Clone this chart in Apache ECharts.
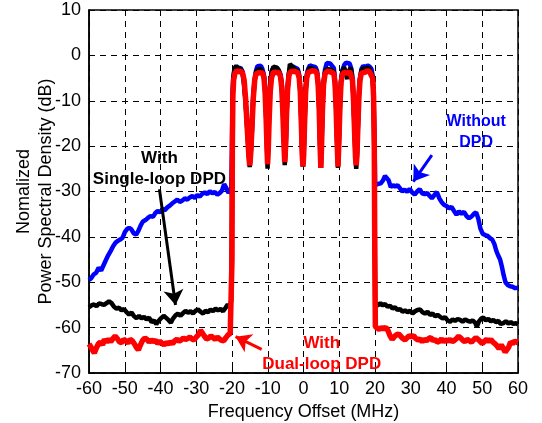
<!DOCTYPE html>
<html>
<head>
<meta charset="utf-8">
<script src="https://cdn.jsdelivr.net/npm/echarts@6/dist/echarts.min.js"></script>
<style>
  html, body { margin: 0; padding: 0; background: #fff; }
  #chart { width: 542px; height: 423px; }
</style>
</head>
<body>
<div id="chart"></div>
<script>
// [frequency offset (MHz), level (dB)]
const blueLeft = [[-60,-49.5],[-59.4,-49.1],[-58.7,-48.3],[-58,-47.9],[-57.3,-46.8],[-56.6,-47.4],[-55.9,-46.2],[-55.2,-45.0],[-54.6,-44.0],[-54,-43.2],[-53.3,-42.1],[-52.6,-41.3],[-52,-40.9],[-51.3,-40.6],[-50.6,-40.2],[-50,-39.0],[-49.4,-38.3],[-48.8,-38.0],[-48.2,-38.3],[-47.5,-39.2],[-46.8,-39.5],[-46.2,-38.7],[-45.5,-37.4],[-44.9,-36.6],[-44.2,-36.3],[-43.5,-35.8],[-42.8,-35.4],[-42.1,-35.6],[-41.5,-34.8],[-40.8,-34.3],[-40.1,-34.6],[-39.4,-33.9],[-38.8,-34.1],[-38.1,-33.5],[-37.4,-33.1],[-36.7,-32.6],[-36.0,-32.2],[-35.3,-31.8],[-34.6,-32.3],[-33.9,-32.0],[-33.2,-31.5],[-32.5,-31.8],[-31.8,-31.3],[-31.1,-31.0],[-30.4,-31.4],[-29.7,-30.8],[-29.0,-31.1],[-28.3,-30.5],[-27.6,-30.2],[-26.9,-30.6],[-26.2,-29.9],[-25.5,-30.4],[-24.8,-30.1],[-24.1,-30.7],[-23.4,-30.3],[-22.8,-29.8],[-22.2,-28.4],[-21.6,-29.2],[-21.0,-30.3],[-20.5,-30.6]];
const blueBand = [[-20.2,-29.5],[-20.0,-20],[-19.85,-9],[-19.65,-5],[-19.3,-3.2],[-18.8,-2.6],[-18.2,-2.9],[-17.6,-2.7],[-17.1,-3.5],[-16.7,-5.5],[-16.2,-10],[-15.6,-17.5],[-15.25,-22],[-15.05,-23.8],[-14.8,-22],[-14.5,-17.5],[-14.1,-9.5],[-13.7,-5.5],[-13.3,-3.4],[-12.9,-2.4],[-12.4,-2.6],[-11.9,-2.3],[-11.5,-3.0],[-11.1,-4.2],[-10.8,-6.5],[-10.5,-11.5],[-10.25,-18.5],[-10.05,-23.5],[-9.85,-18.5],[-9.6,-11.5],[-9.3,-6],[-8.9,-3.4],[-8.4,-2.7],[-7.9,-2.9],[-7.4,-2.8],[-6.9,-3.0],[-6.5,-4],[-6.1,-6],[-5.8,-10.5],[-5.5,-17.5],[-5.25,-23],[-5.0,-20.5],[-4.8,-14.5],[-4.5,-8],[-4.2,-4.5],[-3.8,-2.9],[-3.2,-2.4],[-2.6,-2.6],[-2.1,-2.5],[-1.6,-3.0],[-1.2,-4.3],[-0.9,-7.5],[-0.6,-14.5],[-0.35,-21.5],[-0.15,-24],[0.05,-21.5],[0.3,-14.5],[0.6,-7.5],[0.9,-4.3],[1.3,-3.0],[1.8,-2.2],[2.4,-2.4],[2.9,-2.1],[3.4,-2.6],[3.8,-3.5],[4.1,-6],[4.4,-11.5],[4.65,-19.5],[4.85,-24.3],[5.05,-19.5],[5.3,-11.5],[5.6,-6],[6.0,-3.2],[6.5,-1.7],[7.0,-1.5],[7.5,-1.8],[8.0,-2.0],[8.5,-2.8],[8.8,-5.5],[9.1,-10.5],[9.4,-18.5],[9.65,-24],[9.9,-18.5],[10.2,-10.5],[10.5,-5.5],[10.9,-3.2],[11.4,-2.1],[11.9,-1.6],[12.4,-2.0],[12.9,-1.8],[13.4,-3.0],[13.7,-5],[14.0,-9.5],[14.3,-16.5],[14.55,-22],[14.75,-23.8],[14.95,-21.5],[15.2,-15.5],[15.5,-8.5],[15.8,-5],[16.2,-3.0],[16.7,-2.3],[17.3,-2.6],[17.9,-2.2],[18.5,-2.5],[19.0,-3.0],[19.35,-4.5],[19.6,-8.5],[19.85,-18],[20.05,-28.6]];
const blueRight = [[20.3,-28.6],[21.0,-28.3],[21.6,-28.2],[22.2,-27.6],[22.8,-26.6],[23.3,-26.4],[23.8,-27.5],[24.4,-29.0],[25.0,-28.6],[25.6,-28.9],[26.3,-28.6],[27.0,-29.3],[27.6,-30.0],[28.3,-29.6],[29.0,-30.1],[29.7,-29.4],[30.4,-30.2],[31.1,-30.7],[31.8,-30.0],[32.5,-29.5],[33.2,-30.4],[33.9,-30.6],[34.6,-30.3],[35.3,-31.0],[35.9,-31.5],[36.6,-30.8],[37.3,-30.1],[38.0,-31.5],[38.6,-32.3],[39.3,-32.9],[40.0,-33.2],[40.7,-33.7],[41.4,-33.4],[42.1,-34.3],[42.8,-35.1],[43.5,-34.4],[44.2,-34.9],[44.9,-34.5],[45.6,-35.4],[46.3,-35.9],[47.0,-35.5],[47.7,-34.9],[48.3,-34.6],[48.9,-36.0],[49.5,-38.2],[50.1,-39.3],[50.8,-39.6],[51.5,-39.8],[52.2,-40.3],[52.8,-40.6],[53.4,-41.6],[53.9,-43.0],[54.4,-44.0],[55.0,-45.0],[55.5,-46.6],[56.0,-48.5],[56.5,-50.0],[57.1,-50.6],[57.8,-50.9],[58.5,-51.0],[59.2,-51.3],[60,-51.2]];

const blackLeft = [[-60,-55.5],[-59.3,-55.1],[-58.6,-54.9],[-57.9,-55.3],[-57.2,-54.7],[-56.5,-54.8],[-55.8,-55.0],[-55.1,-54.6],[-54.4,-54.2],[-53.7,-54.6],[-53.0,-55.4],[-52.3,-55.8],[-51.6,-55.6],[-50.9,-56.2],[-50.2,-55.9],[-49.5,-56.6],[-48.8,-57.1],[-48.1,-56.7],[-47.4,-57.5],[-46.7,-57.9],[-46.0,-57.4],[-45.3,-58.0],[-44.6,-57.6],[-43.9,-58.2],[-43.2,-57.8],[-42.5,-58.8],[-41.8,-58.4],[-41.2,-59.2],[-40.5,-58.5],[-39.8,-57.9],[-39.1,-57.4],[-38.5,-57.8],[-37.8,-58.3],[-37.1,-58.9],[-36.5,-58.0],[-35.8,-57.3],[-35.1,-56.9],[-34.4,-57.4],[-33.7,-56.8],[-33.0,-56.3],[-32.3,-56.7],[-31.6,-56.4],[-30.9,-56.9],[-30.2,-56.3],[-29.5,-56.0],[-28.8,-56.5],[-28.1,-56.9],[-27.4,-56.3],[-26.7,-56.6],[-26.0,-56.0],[-25.3,-56.4],[-24.6,-55.8],[-23.9,-56.2],[-23.2,-55.9],[-22.5,-56.4],[-21.8,-55.6],[-21.2,-54.9],[-20.6,-55.5]];
const blackBand = [[-20.2,-54],[-20.0,-30],[-19.85,-10],[-19.65,-5],[-19.3,-2.8],[-18.8,-2.3],[-18.2,-2.9],[-17.6,-3.0],[-17.1,-3.6],[-16.7,-5.8],[-16.2,-10.3],[-15.6,-18],[-15.25,-22.5],[-15.05,-24.6],[-14.8,-22.5],[-14.5,-18],[-14.1,-10],[-13.7,-5.8],[-13.3,-3.8],[-12.9,-3.1],[-12.4,-3.3],[-11.9,-3.0],[-11.5,-3.4],[-11.1,-4.5],[-10.8,-6.8],[-10.5,-12],[-10.25,-19],[-10.05,-25],[-9.85,-19],[-9.6,-12],[-9.3,-6.3],[-8.9,-3.6],[-8.4,-2.5],[-7.9,-2.8],[-7.4,-2.7],[-6.9,-3.3],[-6.5,-4.3],[-6.1,-6.3],[-5.8,-11],[-5.5,-18],[-5.25,-24.2],[-5.0,-21],[-4.8,-15],[-4.5,-8.2],[-4.2,-4.8],[-3.8,-1.9],[-3.2,-2.4],[-2.6,-2.9],[-2.1,-2.8],[-1.6,-3.4],[-1.2,-4.8],[-0.9,-7.8],[-0.6,-15],[-0.35,-22],[-0.15,-24.5],[0.05,-22],[0.3,-15],[0.6,-7.8],[0.9,-4.8],[1.3,-3.4],[1.8,-2.7],[2.4,-3.0],[2.9,-2.8],[3.4,-3.2],[3.8,-4.0],[4.1,-6.3],[4.4,-11.8],[4.65,-20],[4.85,-24.8],[5.05,-20],[5.3,-11.8],[5.6,-6.3],[6.0,-3.8],[6.5,-3.0],[7.0,-2.8],[7.5,-3.1],[8.0,-3.0],[8.5,-3.6],[8.8,-5.8],[9.1,-10.8],[9.4,-19],[9.65,-24.8],[9.9,-19],[10.2,-10.8],[10.5,-5.8],[10.9,-3.4],[11.4,-2.6],[11.9,-4.2],[12.3,-5.2],[12.7,-3.4],[13.2,-2.7],[13.5,-4.0],[13.7,-5.5],[14.0,-10],[14.3,-17],[14.55,-22.5],[14.75,-25],[14.95,-22],[15.2,-16],[15.5,-9],[15.8,-5.3],[16.2,-3.4],[16.7,-2.8],[17.3,-3.0],[17.9,-2.7],[18.5,-3.0],[19.0,-3.4],[19.35,-4.8],[19.6,-9],[19.85,-25],[20.05,-55.3]];
const blackRight = [[20.3,-55.3],[20.9,-55.0],[21.5,-54.6],[22.1,-55.1],[22.8,-54.8],[23.5,-55.4],[24.2,-55.2],[24.9,-55.8],[25.6,-55.5],[26.3,-56.1],[27.0,-55.9],[27.7,-56.5],[28.4,-56.2],[29.1,-56.6],[29.8,-56.3],[30.5,-56.9],[31.2,-56.4],[31.9,-56.1],[32.6,-56.0],[33.3,-56.6],[34.0,-56.9],[34.7,-56.5],[35.4,-57.2],[36.1,-56.9],[36.8,-57.5],[37.5,-57.2],[38.2,-57.6],[38.9,-58.0],[39.6,-57.7],[40.3,-58.4],[41.0,-58.7],[41.7,-58.2],[42.4,-58.5],[43.1,-58.1],[43.8,-58.3],[44.5,-58.7],[45.2,-58.2],[45.9,-58.5],[46.6,-58.7],[47.3,-58.4],[48.0,-58.9],[48.5,-59.8],[49.1,-58.6],[49.7,-58.0],[50.3,-57.8],[51.0,-58.4],[51.7,-58.1],[52.4,-58.6],[53.1,-58.3],[53.8,-58.8],[54.5,-58.5],[55.2,-59.2],[55.9,-59.0],[56.6,-58.6],[57.3,-59.1],[58.0,-58.8],[58.7,-59.2],[59.4,-59.0],[60,-59.3]];

const redLeft = [[-60,-63.6],[-59.5,-64.2],[-59.0,-65.0],[-58.5,-65.6],[-58.0,-64.6],[-57.4,-63.6],[-56.8,-63.2],[-56.2,-63.8],[-55.7,-62.6],[-55.1,-63.2],[-54.5,-62.5],[-53.9,-63.1],[-53.3,-62.4],[-52.7,-61.9],[-52.1,-62.4],[-51.5,-63.1],[-50.9,-63.3],[-50.3,-62.6],[-49.7,-62.9],[-49.1,-63.4],[-48.5,-62.6],[-47.9,-62.9],[-47.3,-63.6],[-46.7,-64.4],[-46.2,-64.9],[-45.6,-63.8],[-45.0,-62.8],[-44.4,-62.3],[-43.8,-62.6],[-43.2,-63.2],[-42.6,-62.7],[-42.0,-63.1],[-41.4,-62.8],[-40.8,-63.5],[-40.2,-63.0],[-39.6,-63.4],[-39.0,-63.8],[-38.4,-63.3],[-37.8,-63.6],[-37.2,-63.2],[-36.6,-63.5],[-36.0,-62.9],[-35.4,-62.6],[-34.8,-63.0],[-34.2,-62.7],[-33.6,-62.3],[-33.0,-62.6],[-32.4,-62.4],[-31.8,-62.1],[-31.2,-62.5],[-30.6,-62.7],[-30.0,-62.1],[-29.4,-61.6],[-28.8,-60.6],[-28.3,-60.8],[-27.7,-61.9],[-27.1,-62.5],[-26.5,-62.3],[-25.9,-61.8],[-25.3,-62.2],[-24.7,-62.6],[-24.1,-62.1],[-23.5,-62.5],[-22.9,-62.8],[-22.3,-62.9],[-21.7,-62.2],[-21.1,-61.6],[-20.5,-61.3],[-20.1,-60.9]];
const redBand = [[-20.0,-45],[-19.9,-20],[-19.75,-9],[-19.55,-5.5],[-19.2,-4.0],[-18.7,-3.4],[-18.1,-3.6],[-17.5,-3.5],[-17.0,-4.0],[-16.6,-5.5],[-16.2,-9.5],[-15.7,-16.5],[-15.3,-22],[-15.05,-24.3],[-14.8,-22],[-14.45,-16.5],[-14.05,-9.5],[-13.65,-5.5],[-13.3,-4.1],[-12.9,-3.7],[-12.4,-3.8],[-11.9,-3.6],[-11.4,-3.9],[-11.05,-5],[-10.75,-8],[-10.45,-14],[-10.2,-20.5],[-10.05,-24],[-9.85,-20.5],[-9.6,-14],[-9.3,-8],[-8.95,-5],[-8.5,-3.8],[-7.9,-3.7],[-7.4,-3.5],[-6.9,-3.8],[-6.45,-4.6],[-6.1,-7],[-5.8,-12],[-5.5,-19],[-5.25,-23.5],[-5.0,-20],[-4.75,-13],[-4.45,-7.5],[-4.1,-4.6],[-3.7,-3.6],[-3.2,-3.3],[-2.6,-3.5],[-2.1,-3.4],[-1.6,-3.8],[-1.2,-5],[-0.9,-8],[-0.6,-15],[-0.35,-22],[-0.15,-24.5],[0.05,-22],[0.3,-15],[0.6,-8],[0.9,-5],[1.3,-3.8],[1.8,-3.6],[2.4,-3.4],[2.9,-3.6],[3.4,-3.5],[3.8,-4.2],[4.1,-6.5],[4.4,-12],[4.65,-20],[4.85,-24.8],[5.05,-20],[5.3,-12],[5.6,-6.5],[6.0,-4.2],[6.5,-3.5],[7.0,-3.4],[7.5,-3.6],[8.0,-3.5],[8.5,-4.0],[8.8,-6],[9.1,-11],[9.4,-19],[9.65,-24.5],[9.9,-19],[10.2,-11],[10.5,-6],[10.9,-4.2],[11.4,-3.7],[11.9,-3.3],[12.4,-4.0],[12.9,-3.5],[13.4,-3.9],[13.7,-5.5],[14.0,-10],[14.3,-17],[14.55,-22.5],[14.75,-24.2],[14.95,-22],[15.2,-16],[15.5,-9],[15.8,-5.5],[16.2,-3.9],[16.7,-3.5],[17.3,-3.7],[17.9,-3.4],[18.5,-3.6],[19.0,-3.9],[19.35,-5],[19.6,-9],[19.8,-20],[19.95,-45]];
const redRight = [[20.1,-59.8],[20.6,-60.2],[21.2,-60.4],[21.8,-60.0],[22.4,-60.3],[23.0,-59.9],[23.6,-60.6],[24.2,-61.8],[24.8,-62.6],[25.4,-62.0],[26.0,-61.6],[26.6,-61.4],[27.2,-61.9],[27.8,-62.4],[28.4,-62.7],[29.0,-62.2],[29.6,-61.8],[30.2,-62.0],[30.8,-61.8],[31.4,-62.4],[32.0,-62.7],[32.6,-62.5],[33.2,-63.1],[33.8,-62.6],[34.4,-62.9],[35.0,-62.4],[35.6,-62.2],[36.2,-62.9],[36.8,-62.6],[37.4,-63.2],[38.0,-63.0],[38.6,-62.5],[39.2,-63.1],[39.8,-62.7],[40.4,-63.0],[41.0,-62.6],[41.6,-63.1],[42.2,-62.8],[42.8,-62.4],[43.4,-61.9],[44.0,-62.3],[44.6,-62.8],[45.2,-63.1],[45.8,-62.6],[46.4,-62.9],[47.0,-63.2],[47.6,-62.7],[48.2,-62.2],[48.8,-62.6],[49.4,-63.0],[50.0,-63.5],[50.6,-63.0],[51.2,-62.6],[51.8,-63.1],[52.4,-62.6],[53.0,-63.2],[53.6,-63.6],[54.2,-64.1],[54.7,-64.6],[55.3,-63.8],[55.9,-64.6],[56.4,-65.4],[56.9,-65.7],[57.4,-64.3],[57.9,-63.2],[58.5,-63.5],[59.1,-63.0],[59.6,-63.2],[60,-63.3]];

const xTicks = [-60, 60, 10];
const yTicks = [-70, 10, 10];

// annotation anchors in data units: [x, y]
const labelWithout = [48.3, -17.0];
const arrowWithout = [[35.9, -22], [30.7, -27.8]];
const labelSingle = [-40.3, -25.1];
const arrowSingle = [[-40.3, -29.5], [-35.8, -55]];
const labelDual = [5.1, -65.8];
const arrowDual = [[-11.7, -64.8], [-19.0, -62.0]];

const FONT = "'Liberation Sans', Arial, sans-serif";

const chart = echarts.init(document.getElementById("chart"));

const arrow = (pts, color) => ({
  silent: true,
  symbol: ["none", "arrow"],
  symbolSize: 15,
  label: { show: false },
  lineStyle: { color: color, width: 3, type: "solid", opacity: 1 },
  itemStyle: { color: color },
  emphasis: { disabled: true },
  data: [[{ coord: pts[0] }, { coord: pts[1] }]]
});

const note = (pos, text, color, size) => ({
  silent: true,
  symbol: "circle",
  symbolSize: 1,
  itemStyle: { color: "rgba(0,0,0,0)" },
  label: {
    show: true,
    position: "inside",
    formatter: text,
    color: color,
    fontFamily: FONT,
    fontWeight: "bold",
    fontSize: size,
    lineHeight: 21,
    align: "center"
  },
  data: [{ coord: pos }]
});

const axisText = { color: "#000", fontFamily: FONT, fontSize: 18 };

chart.setOption({
  animation: false,
  grid: {
    left: 89,
    right: 24,
    top: 10,
    bottom: 50,
    containLabel: false,
    outerBoundsMode: "none",
    show: true,
    borderColor: "#000",
    borderWidth: 1.5,
    backgroundColor: "#fff"
  },
  xAxis: {
    type: "value",
    min: xTicks[0],
    max: xTicks[1],
    interval: xTicks[2],
    name: "Frequency Offset (MHz)",
    nameLocation: "middle",
    nameGap: 30,
    nameMoveOverlap: false,
    nameTextStyle: axisText,
    axisLine: { show: true, onZero: false, lineStyle: { color: "#000", width: 1.5 } },
    axisTick: { show: true, inside: true, length: 5, lineStyle: { color: "#000" } },
    axisLabel: { ...axisText, margin: 7 },
    splitLine: { show: true, lineStyle: { color: "#000", type: [6, 5], width: 1 } }
  },
  yAxis: {
    type: "value",
    min: yTicks[0],
    max: yTicks[1],
    interval: yTicks[2],
    name: "Nomalized\nPower Spectral Density (dB)",
    nameLocation: "middle",
    nameGap: 32,
    nameMoveOverlap: false,
    nameTextStyle: { ...axisText, lineHeight: 22 },
    axisLine: { show: true, onZero: false, lineStyle: { color: "#000", width: 1.5 } },
    axisTick: { show: true, inside: true, length: 5, lineStyle: { color: "#000" } },
    axisLabel: { ...axisText, margin: 8 },
    splitLine: { show: true, lineStyle: { color: "#000", type: [6, 5], width: 1 } }
  },
  series: [
    {
      name: "Without DPD",
      type: "line",
      data: blueLeft.concat(blueBand, blueRight),
      showSymbol: false,
      lineStyle: { color: "#0000ff", width: 4.5 },
      z: 2,
      markLine: arrow(arrowWithout, "#0000ff"),
      markPoint: note(labelWithout, "Without\nDPD", "#0000ff", 16)
    },
    {
      name: "With Single-loop DPD",
      type: "line",
      data: blackLeft.concat(blackBand, blackRight),
      showSymbol: false,
      lineStyle: { color: "#000000", width: 4.5 },
      z: 3,
      markLine: arrow(arrowSingle, "#000000"),
      markPoint: note(labelSingle, "With\nSingle-loop DPD", "#000000", 17)
    },
    {
      name: "With Dual-loop DPD",
      type: "line",
      data: redLeft.concat(redBand, redRight),
      showSymbol: false,
      lineStyle: { color: "#ff0000", width: 5.5 },
      z: 4,
      markLine: arrow(arrowDual, "#ff0000"),
      markPoint: note(labelDual, "With\nDual-loop DPD", "#ff0000", 17)
    }
  ]
});
</script>
</body>
</html>
